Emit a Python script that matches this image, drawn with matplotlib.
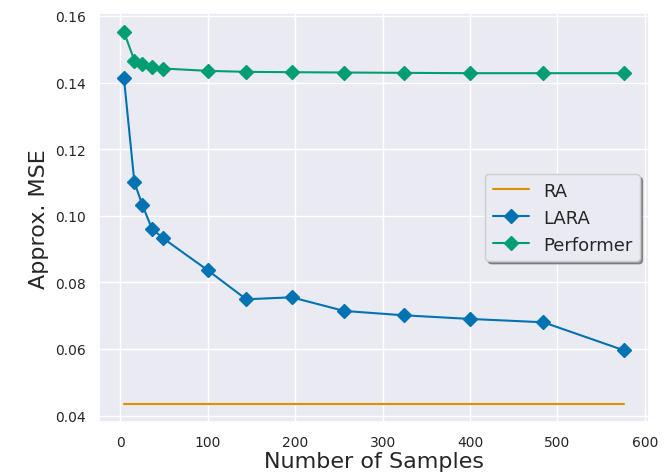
import matplotlib
matplotlib.use("Agg")
import matplotlib.pyplot as plt
import seaborn as sns

sns.set_theme(style="darkgrid")

# Mostres (quadrats perfectes) i errors aproximats llegits de la gràfica
n_mostres = [4, 16, 25, 36, 49, 100, 144, 196, 256, 324, 400, 484, 576]
mse_ra = [0.0436] * len(n_mostres)
mse_lara = [0.1413, 0.1100, 0.1033, 0.0961, 0.0932, 0.0836, 0.0749, 0.0755,
            0.0714, 0.0701, 0.0690, 0.0680, 0.0596]
mse_performer = [0.1552, 0.1466, 0.1455, 0.1448, 0.1442, 0.1435, 0.1432, 0.1431,
                 0.1430, 0.1429, 0.1428, 0.1428, 0.1428]

colors = sns.color_palette("colorblind")

fig = plt.figure(figsize=(6.64, 4.77), dpi=100)
ax = fig.add_subplot(111)
fig.subplots_adjust(left=0.149, right=0.977, top=0.97, bottom=0.113)

ax.plot(n_mostres, mse_ra, color=colors[1], lw=1.5, label="RA")
ax.plot(n_mostres, mse_lara, color=colors[0], lw=1.5, marker="D", ms=7, label="LARA")
ax.plot(n_mostres, mse_performer, color=colors[2], lw=1.5, marker="D", ms=7, label="Performer")

ax.set_xlabel("Number of Samples", fontsize=16, labelpad=1)
ax.set_ylabel("Approx. MSE", fontsize=16)
ax.tick_params(labelsize=10)
ax.set_xticks([0, 100, 200, 300, 400, 500, 600])

ax.legend(loc="center right", fontsize=13, frameon=True, shadow=True,
          facecolor="#eaeaf2", edgecolor="#cccccc")

fig.savefig("out.png", dpi=100)
